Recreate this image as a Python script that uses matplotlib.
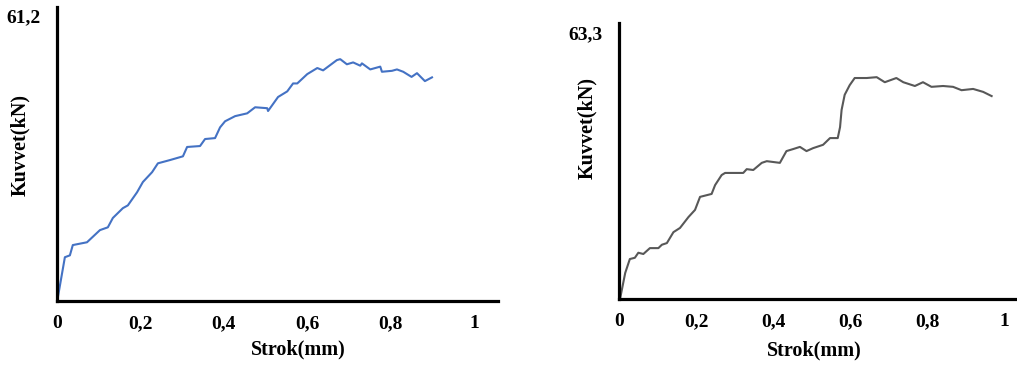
import matplotlib.pyplot as plt

# sol grafik: strok (mm) - kuvvet (kN)
strok_1 = [0.001, 0.019, 0.031, 0.038, 0.072, 0.103, 0.122, 0.134, 0.158, 0.170,
           0.192, 0.206, 0.228, 0.242, 0.271, 0.302, 0.312, 0.343, 0.355, 0.379,
           0.391, 0.403, 0.427, 0.456, 0.475, 0.504, 0.506, 0.530, 0.552, 0.566,
           0.576, 0.600, 0.624, 0.638, 0.671, 0.679, 0.695, 0.710, 0.727, 0.731,
           0.751, 0.775, 0.779, 0.803, 0.815, 0.830, 0.850, 0.863, 0.882, 0.899]
kuvvet_1 = [0.2, 9.4, 9.8, 12.0, 12.6, 15.2, 15.8, 17.8, 19.9, 20.5,
            23.3, 25.5, 27.6, 29.5, 30.2, 31.0, 33.0, 33.2, 34.7, 34.9,
            37.2, 38.5, 39.6, 40.2, 41.5, 41.3, 40.7, 43.7, 44.9, 46.6,
            46.6, 48.6, 49.9, 49.4, 51.6, 51.8, 50.7, 51.1, 50.4, 50.9,
            49.6, 50.2, 49.1, 49.3, 49.6, 49.1, 48.0, 48.8, 47.1, 47.9]

# sag grafik
strok_2 = [0.003, 0.016, 0.028, 0.041, 0.050, 0.063, 0.080, 0.102, 0.111, 0.124,
           0.141, 0.158, 0.180, 0.197, 0.210, 0.240, 0.249, 0.266, 0.275, 0.322,
           0.331, 0.348, 0.370, 0.383, 0.417, 0.434, 0.452, 0.469, 0.486, 0.503,
           0.529, 0.547, 0.567, 0.573, 0.577, 0.585, 0.598, 0.611, 0.642, 0.668,
           0.689, 0.719, 0.737, 0.767, 0.788, 0.810, 0.840, 0.866, 0.888, 0.918,
           0.944, 0.966]
kuvvet_2 = [0.2, 6.2, 9.5, 9.8, 11.0, 10.7, 12.1, 12.1, 12.9, 13.3,
            15.9, 16.9, 19.5, 21.2, 24.3, 25.0, 27.1, 29.5, 30.0, 30.0,
            30.9, 30.7, 32.4, 32.8, 32.4, 35.2, 35.7, 36.2, 35.2, 35.9,
            36.7, 38.3, 38.3, 40.9, 45.0, 48.6, 50.9, 52.6, 52.6, 52.8,
            51.6, 52.6, 51.6, 50.7, 51.6, 50.5, 50.7, 50.5, 49.7, 50.0,
            49.3, 48.3]

xticks = [0, 0.2, 0.4, 0.6, 0.8, 1]
xlabels = ['0', '0,2', '0,4', '0,6', '0,8', '1']

plt.rcParams['font.family'] = 'Liberation Serif'
plt.rcParams['font.weight'] = 'bold'

fig = plt.figure(figsize=(10.17, 3.65), dpi=100)
ax1 = fig.add_axes([0.056, 0.175, 0.434, 0.805])
ax2 = fig.add_axes([0.6087, 0.181, 0.391, 0.756])

panels = [(ax1, strok_1, kuvvet_1, '#4472C4', 61.2, '61,2', 62.9, 1.058,
           (-0.061, 0.53), (0.546, -0.13)),
          (ax2, strok_2, kuvvet_2, '#585858', 63.3, '63,3', 65.7, 1.031,
           (-0.054, 0.62), (0.49, -0.152))]

for ax, x, y, c, ymax, ylab, ytop, xright, ylab_xy, xlab_xy in panels:
    ax.plot(x, y, color=c, lw=1.5)
    ax.set_xlim(0, xright)
    ax.set_ylim(0, ytop)
    ax.set_xticks(xticks)
    ax.set_xticklabels(xlabels, fontsize=14, fontweight='bold')
    ax.set_yticks([ymax])
    ax.set_yticklabels([ylab], fontsize=14, fontweight='bold')
    ax.tick_params(length=0, pad=10)
    ax.tick_params(axis='y', pad=12)
    for s in ['top', 'right']:
        ax.spines[s].set_visible(False)
    for s in ['left', 'bottom']:
        ax.spines[s].set_linewidth(2.3)
        ax.spines[s].set_color('black')
    ax.set_xlabel('Strok(mm)', fontsize=14.5, fontweight='bold')
    ax.set_ylabel('Kuvvet(kN)', fontsize=14.5, fontweight='bold')
    ax.yaxis.set_label_coords(*ylab_xy)
    ax.xaxis.set_label_coords(*xlab_xy)

fig.savefig('out.png', dpi=100)
